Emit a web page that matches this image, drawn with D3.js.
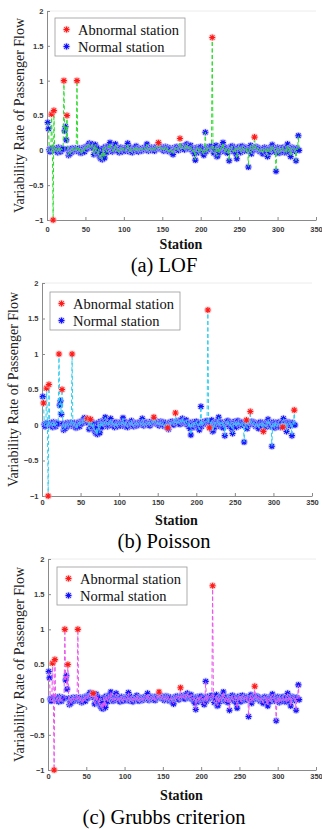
<!DOCTYPE html>
<html>
<head>
<meta charset="utf-8">
<script src="https://cdn.jsdelivr.net/npm/d3@7"></script>
<style>
html, body { margin: 0; padding: 0; background: #fff; }
svg { display: block; }
</style>
</head>
<body>
<svg id="chart" width="322" height="829"></svg>
<script>
// variability rate of passenger flow, station 1..328
const rates = [
	0.40, 0.31, 0.01, -0.02, 0.02, 0.52, 0.03, -1.00, 0.57, 0.02, -0.01, 0.03, 0.01, -0.03, 0.04, 0.00, 0.02, -0.02, 0.03, 0.01,
	0.02, 1.00, 0.28, 0.34, 0.15, 0.50, 0.02, -0.07, -0.03, -0.05, 0.02, 0.01, 0.03, -0.02, 0.02, 0.00, 0.03, 0.01, 1.00, 0.02,
	-0.02, 0.03, 0.00, -0.04, 0.02, -0.03, 0.01, 0.04, -0.02, 0.03, 0.05, 0.02, 0.06, 0.08, 0.10, 0.04, 0.07, 0.05, 0.09, 0.03,
	-0.06, 0.05, 0.08, -0.02, 0.04, -0.05, 0.02, -0.08, -0.10, -0.12, -0.04, -0.13, 0.03, -0.09, -0.11, 0.05, 0.02, -0.03, 0.04, 0.06,
	0.02, 0.11, 0.04, 0.01, -0.02, 0.03, 0.00, 0.05, 0.09, 0.02, -0.01, 0.03, 0.01, -0.03, 0.02, 0.04, 0.00, -0.02, 0.03, 0.01,
	0.02, -0.01, 0.04, 0.02, 0.10, 0.03, -0.02, 0.01, 0.04, 0.00, -0.03, 0.02, 0.01, 0.03, -0.01, 0.06, 0.02, 0.00, -0.02, 0.03,
	0.01, 0.02, -0.01, 0.03, 0.00, 0.02, 0.04, 0.01, 0.03, 0.09, 0.02, -0.01, 0.03, 0.01, 0.02, 0.04, 0.00, 0.03, 0.02, -0.01,
	0.03, 0.05, 0.02, 0.04, 0.11, 0.03, 0.06, 0.02, 0.04, 0.01, 0.03, -0.01, 0.02, 0.05, 0.03, 0.00, 0.04, 0.02, -0.02, 0.03,
	0.01, -0.03, -0.04, -0.06, 0.02, 0.04, 0.01, 0.03, 0.05, 0.02, 0.00, 0.04, 0.17, 0.03, 0.05, 0.02, 0.06, 0.04, 0.01, 0.07,
	0.05, 0.09, 0.03, 0.06, 0.02, 0.04, 0.07, 0.01, 0.03, -0.02, 0.02, -0.05, -0.14, 0.01, 0.04, 0.02, -0.03, 0.03, 0.00, 0.05,
	-0.01, 0.02, -0.04, -0.07, 0.03, 0.26, -0.02, 0.04, 0.01, 0.03, 0.05, 0.02, 0.04, 0.06, 1.62, 0.03, -0.04, 0.02, 0.01, 0.07,
	-0.09, -0.08, 0.02, -0.03, 0.04, 0.01, 0.05, 0.03, 0.11, 0.02, -0.02, 0.04, 0.00, 0.03, -0.04, 0.01, -0.15, 0.02, 0.05, 0.03,
	0.06, 0.01, -0.02, 0.04, 0.02, -0.05, -0.12, 0.03, 0.00, 0.05, 0.02, -0.03, 0.04, 0.06, 0.01, 0.03, -0.01, 0.02, 0.04, 0.00,
	0.03, -0.24, 0.02, 0.01, 0.07, -0.05, 0.03, 0.00, 0.04, 0.19, 0.03, 0.05, 0.01, 0.04, 0.02, 0.03, -0.02, 0.02, 0.01, -0.03,
	-0.05, 0.02, 0.04, 0.00, -0.02, 0.03, -0.09, 0.01, 0.02, -0.03, 0.04, 0.02, 0.08, 0.01, 0.03, -0.02, 0.00, -0.30, 0.02, 0.04,
	0.01, -0.04, 0.03, 0.00, -0.02, 0.02, 0.04, 0.01, -0.03, 0.02, 0.03, -0.03, 0.09, 0.02, -0.02, 0.03, -0.09, 0.01, 0.04, 0.02,
	0.03, -0.01, 0.02, -0.15, 0.03, 0.01, 0.21, 0.00
]
const stations = rates.map((d, i) => i + 1)

// stations flagged abnormal by each method
const lofAbnormal = [6, 8, 9, 22, 26, 39, 145, 173, 215, 270]
const poissonAbnormal = [2, 6, 8, 9, 22, 26, 39, 59, 63, 145, 163, 173, 215, 217, 265, 270, 287, 312, 327]
const grubbsAbnormal = [6, 8, 9, 22, 26, 39, 59, 145, 173, 215, 270]

const xTicks = [0, 50, 100, 150, 200, 250, 300, 350]
const yTicks = [-1, -0.5, 0, 0.5, 1, 1.5, 2]
const legendLabels = ['Abnormal station', 'Normal station']
const captions = ['(a) LOF', '(b) Poisson', '(c) Grubbs criterion']

const panels = [
	{ left: 47, right: 316, top: 11, bottom: 220, line: '#2fdc2f', abnormal: lofAbnormal, caption: captions[0],
		xPad: 6.5, lgX: 55, lgY: 18, labX: 19, stY: 249, capY: 271.5 },
	{ left: 42, right: 312, top: 283, bottom: 496, line: '#30cdee', abnormal: poissonAbnormal, caption: captions[1],
		xPad: 4, lgX: 50, lgY: 292, labX: 13.5, stY: 525, capY: 548.3 },
	{ left: 48, right: 316, top: 559, bottom: 770, line: '#ec55ec', abnormal: grubbsAbnormal, caption: captions[2],
		xPad: 3.5, lgX: 57, lgY: 567, labX: 19, stY: 800, capY: 824.3 }
]

const serif = '"Liberation Serif", "Times New Roman", serif'
const sans = '"Liberation Sans", Arial, sans-serif'
const star = 'M-3,0H3M0,-3V3M-2.2,-2.2L2.2,2.2M-2.2,2.2L2.2,-2.2'

const svg = d3.select('#chart')

function drawStar (g, x, y, color, halo) {
	g.append('circle')
		.attr('cx', x).attr('cy', y).attr('r', 3.8)
		.attr('fill', halo).attr('opacity', 0.55)
	g.append('path')
		.attr('d', star)
		.attr('transform', `translate(${x},${y})`)
		.attr('stroke', color)
		.attr('stroke-width', 1.1)
		.attr('fill', 'none')
}

panels.forEach(p => {
	const g = svg.append('g')

	const xScale = d3.scaleLinear().domain([0, 350]).range([p.left, p.right])
	const yScale = d3.scaleLinear().domain([-1, 2]).range([p.bottom, p.top])

	// faint top frame
	g.append('line')
		.attr('x1', p.left).attr('x2', p.right)
		.attr('y1', p.top).attr('y2', p.top)
		.attr('stroke', '#ececec')

	const yAxis = g.append('g')
		.attr('transform', `translate(${p.left},0)`)
		.call(d3.axisLeft(yScale).tickValues(yTicks).tickSizeInner(-3).tickSizeOuter(0).tickPadding(3.5)
			.tickFormat(d3.format('')))
	const xAxis = g.append('g')
		.attr('transform', `translate(0,${p.bottom})`)
		.call(d3.axisBottom(xScale).tickValues(xTicks).tickSizeInner(-3).tickSizeOuter(0).tickPadding(p.xPad))

	;[yAxis, xAxis].forEach(ax => {
		ax.select('.domain').attr('stroke', '#8a8a8a')
		ax.selectAll('.tick line').attr('stroke', '#8a8a8a')
		ax.selectAll('.tick text')
			.attr('fill', '#3a3a3a')
			.style('font-family', sans)
			.style('font-size', '7.5px')
			.style('font-weight', 'bold')
	})

	const isAbn = new Set(p.abnormal)
	const pts = stations.map((s, i) => ({ s, v: rates[i], abn: isAbn.has(s) }))

	const normalG = g.append('g')
	pts.filter(d => !d.abn).forEach(d => drawStar(normalG, xScale(d.s), yScale(d.v), '#1010ff', '#b7b7ff'))

	const lineGen = d3.line()
		.x(d => xScale(d.s))
		.y(d => yScale(d.v))

	g.append('path')
		.datum(pts)
		.attr('d', lineGen)
		.attr('fill', 'none')
		.attr('stroke', p.line)
		.attr('stroke-width', 1)
		.attr('stroke-dasharray', '4,2.5')

	const abnG = g.append('g')
	pts.filter(d => d.abn).forEach(d => drawStar(abnG, xScale(d.s), yScale(d.v), '#ff1a1a', '#ffb5b5'))

	// legend
	const lg = g.append('g').attr('transform', `translate(${p.lgX},${p.lgY})`)
	lg.append('rect')
		.attr('width', 130).attr('height', 38)
		.attr('fill', '#fff').attr('stroke', '#9a9a9a').attr('stroke-width', 0.8)
	legendLabels.forEach((t, i) => {
		const cy = 11.5 + i * 17
		drawStar(lg, 11.5, cy, i === 0 ? '#ff1a1a' : '#1010ff', i === 0 ? '#ffb5b5' : '#b7b7ff')
		lg.append('text')
			.attr('x', 23).attr('y', cy + 5)
			.style('font-family', serif)
			.style('font-size', '14.5px')
			.attr('fill', '#111')
			.text(t)
	})

	// y label
	g.append('text')
		.attr('transform', `translate(${p.labX},${(p.top + p.bottom) / 2}) rotate(-90)`)
		.attr('text-anchor', 'middle')
		.attr('dominant-baseline', 'central')
		.style('font-family', serif)
		.style('font-size', '14px')
		.attr('fill', '#222')
		.text('Variability Rate of Passenger Flow')

	g.append('text')
		.attr('x', (p.left + p.right) / 2 - 0.5)
		.attr('y', p.stY)
		.attr('text-anchor', 'middle')
		.style('font-family', serif)
		.style('font-size', '14px')
		.style('font-weight', 'bold')
		.attr('fill', '#111')
		.text('Station')

	g.append('text')
		.attr('x', 164)
		.attr('y', p.capY)
		.attr('text-anchor', 'middle')
		.style('font-family', serif)
		.style('font-size', '20.5px')
		.attr('fill', '#000')
		.text(p.caption)
})
</script>
</body>
</html>
